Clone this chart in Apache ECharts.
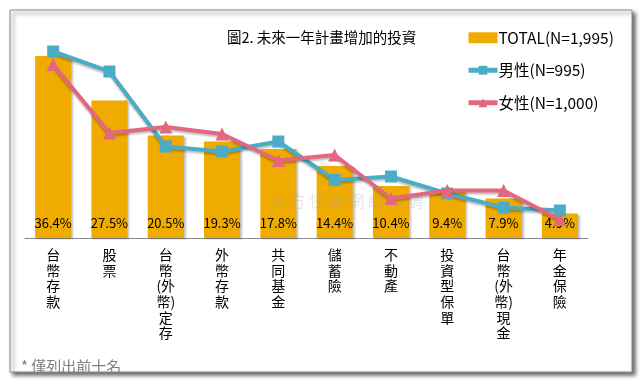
<!DOCTYPE html>
<html><head><meta charset="utf-8">
<script src="https://cdn.jsdelivr.net/npm/echarts@6/dist/echarts.min.js"></script>
<style>html,body{margin:0;padding:0;background:#fff}#c{width:644px;height:385px}</style>
</head><body><div id="c"></div>
<script>
var categories = ['台幣存款','股票','台幣(外幣)定存','外幣存款','共同基金','儲蓄險','不動產','投資型保單','台幣(外幣)現金','年金保險'];
var totalValues = [36.4,27.5,20.5,19.3,17.8,14.4,10.4,9.4,7.9,4.9];
var maleValues = [37.3,33.3,18.3,17.3,19.3,11.6,12.3,8.9,6.1,5.5];
var femaleValues = [34.7,21.0,22.2,20.8,15.5,16.6,7.9,9.5,9.5,3.7];
var seriesNames = ['TOTAL(N=1,995)','男性(N=995)','女性(N=1,000)'];
var titleText = '圖2. 未來一年計畫增加的投資';
var footnote = '* 僅列出前十名';

function vertical(s){
  var lines=[]; var chars=s.split('');
  for(var i=0;i<chars.length;i++){
    var ch=chars[i];
    if(ch==='('){ lines.push('('+chars[i+1]); i++; }
    else if(ch===')'){ lines[lines.length-1]+=')'; }
    else lines.push(ch);
  }
  return lines.join('\n');
}
var FONT = '"Noto Sans CJK TC","Noto Sans",sans-serif';
var BLUE='#4BACC6', PINK='#E3677F', GOLD='#F0AB00';
var chart = echarts.init(document.getElementById('c'));
chart.setOption({
  animation:false,
  textStyle:{fontFamily:FONT},
  title:{text:titleText,left:222,top:25,textStyle:{fontSize:14.5,fontWeight:'normal',color:'#000',fontFamily:FONT}},
  legend:{orient:'vertical',left:461,top:25,itemGap:17,itemWidth:29,itemHeight:11,
    textStyle:{fontSize:15.5,color:'#000',fontFamily:FONT,padding:[0,0,0,-4]},
    data:[{name:seriesNames[0],icon:'rect'},
          {name:seriesNames[1],itemStyle:{color:BLUE},lineStyle:{width:5}},
          {name:seriesNames[2],itemStyle:{color:PINK},lineStyle:{width:5}}]},
  graphic:[
    {type:'rect',shape:{x:10,y:10,width:622,height:362},z:-10,silent:true,
     style:{fill:'#fff',stroke:'#8a8a8a',lineWidth:1,shadowColor:'rgba(0,0,0,0.6)',shadowBlur:4,shadowOffsetX:3,shadowOffsetY:3}},
    {type:'text',left:21,top:359,style:{text:footnote,fontSize:15,fill:'#808080',fontFamily:FONT}},
    {type:'text',left:270,top:193,z:3,silent:true,style:{text:'東 方 快 線 網 絡 市 調',fontSize:16,fill:'rgba(160,160,160,0.28)',fontFamily:FONT}}
  ],
  grid:{left:25,right:56,top:38,bottom:147},
  xAxis:{type:'category',data:categories,
    axisLine:{lineStyle:{color:'#888',width:1}},axisTick:{show:false},
    axisLabel:{margin:9,interval:0,fontSize:14,lineHeight:15.6,color:'#000',verticalAlign:'top',
      formatter:function(v){return vertical(v);}}},
  yAxis:{type:'value',min:0,max:40,show:false,splitLine:{show:false}},
  series:[
    {name:seriesNames[0],type:'bar',z:1,data:totalValues,barWidth:'64%',
     itemStyle:{color:GOLD,shadowColor:'rgba(0,0,0,0.25)',shadowBlur:2,shadowOffsetX:2,shadowOffsetY:1},
     label:{show:true,position:'insideBottom',distance:8,fontSize:13,color:'#000',fontFamily:FONT,
       formatter:function(p){return p.value.toFixed(1)+'%';}}},
    {name:seriesNames[1],type:'line',z:6,data:maleValues,symbol:'rect',symbolSize:12,
     lineStyle:{color:BLUE,width:4,shadowColor:'rgba(0,0,0,0.25)',shadowBlur:2,shadowOffsetY:2},
     itemStyle:{color:BLUE}},
    {name:seriesNames[2],type:'line',z:7,data:femaleValues,symbol:'triangle',symbolSize:13,
     lineStyle:{color:PINK,width:4,shadowColor:'rgba(0,0,0,0.25)',shadowBlur:2,shadowOffsetY:2},
     itemStyle:{color:PINK}}
  ]
});
</script></body></html>
